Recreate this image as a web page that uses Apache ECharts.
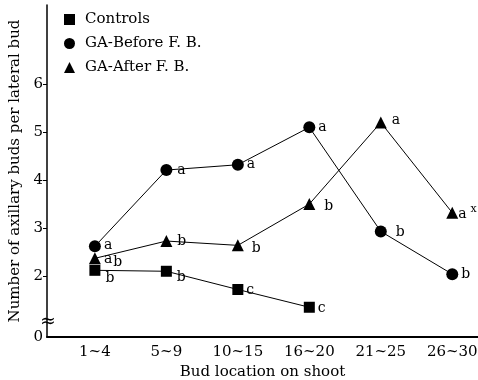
<!DOCTYPE html>
<html>
<head>
<meta charset="utf-8">
<script src="https://cdn.jsdelivr.net/npm/echarts@6/dist/echarts.min.js"></script>
<style>
  html, body { margin: 0; padding: 0; background: #fff; }
  #main { width: 478px; height: 380px; }
</style>
</head>
<body>
<div id="main"></div>
<script>
// bud location categories
var categories = ['1~4', '5~9', '10~15', '16~20', '21~25', '26~30'];
var seriesNames = ['Controls', 'GA-Before F. B.', 'GA-After F. B.'];

// values
var controlsValues = [2.12, 2.10, 1.72, 1.35];
var gaBeforeValues = [2.62, 4.21, 4.32, 5.10, 2.93, 2.04];
var gaAfterValues = [2.37, 2.73, 2.64, 3.50, 5.20, 3.32];

// significance letters
var controlsSig = ['b', 'b', 'c', 'c'];
var gaBeforeSig = ['a', 'a', 'a', 'a', 'b', 'b'];
var gaAfterSig = ['a{lo|b}', 'b', 'b', 'b', 'a', 'a{sup|x}'];

var yTicks = [2, 3, 4, 5, 6];

var font = 'DejaVu Serif';

function buildData(values, sig, offsets) {
    return values.map(function(v, i) {
        return {
            value: [i, v],
            label: { formatter: sig[i], offset: offsets[i] }
        };
    });
}

var dom = document.getElementById('main');
var myChart = echarts.init(dom);

var labelStyle = {
    show: true,
    position: 'right',
    distance: 3,
    color: '#000',
    fontFamily: font,
    fontSize: 14,
    rich: {
        sup: { fontSize: 11, fontFamily: font, color: '#000', padding: [0, 0, 12, 4] },
        lo: { fontSize: 14, fontFamily: font, color: '#000', padding: [6, 0, 0, 1] }
    }
};

var option = {
    animation: false,
    backgroundColor: '#fff',
    grid: {
        left: 47,
        right: 0,
        top: 5,
        bottom: 43,
        outerBoundsMode: 'none'
    },
    legend: {
        orient: 'vertical',
        left: 59,
        top: 7,
        itemGap: 9,
        itemWidth: 11,
        itemHeight: 11,
        data: [
            { name: seriesNames[0], icon: 'rect' },
            { name: seriesNames[1], icon: 'circle' },
            { name: seriesNames[2], icon: 'triangle' }
        ],
        textStyle: {
            color: '#000',
            fontFamily: font,
            fontSize: 15,
            padding: [0, 0, 0, 5]
        }
    },
    xAxis: {
        type: 'value',
        min: -0.67,
        max: 5.36,
        name: 'Bud location on shoot',
        nameLocation: 'middle',
        nameGap: 21,
        nameTextStyle: { color: '#000', fontFamily: font, fontSize: 15 },
        splitLine: { show: false },
        axisLine: { show: true, onZero: false, lineStyle: { color: '#000', width: 2 } },
        axisTick: { show: false },
        axisLabel: {
            customValues: [0, 1, 2, 3, 4, 5],
            formatter: function(v) { return categories[Math.round(v)]; },
            color: '#000',
            fontFamily: font,
            fontSize: 15,
            margin: 8
        }
    },
    yAxis: {
        type: 'value',
        min: 0.73,
        max: 7.65,
        name: 'Number of axillary buds per lateral bud',
        nameLocation: 'middle',
        nameGap: 22,
        nameTextStyle: { color: '#000', fontFamily: font, fontSize: 15 },
        splitLine: { show: false },
        axisLine: { show: true, onZero: false, lineStyle: { color: '#000', width: 1.5 } },
        axisTick: {
            show: true,
            customValues: yTicks,
            length: 4,
            lineStyle: { color: '#000', width: 1 }
        },
        axisLabel: {
            customValues: [0.73].concat(yTicks),
            formatter: function(v) { return v < 1 ? '0' : String(v); },
            color: '#000',
            fontFamily: font,
            fontSize: 15,
            margin: 4
        }
    },
    graphic: [{
        type: 'text',
        x: 48,
        y: 322,
        style: {
            text: '≈',
            fontSize: 19,
            fontFamily: font,
            fill: '#000',
            align: 'center',
            verticalAlign: 'middle'
        }
    }],
    series: [{
            name: seriesNames[0],
            type: 'line',
            symbol: 'rect',
            symbolSize: 11,
            itemStyle: { color: '#000' },
            lineStyle: { color: '#000', width: 1 },
            label: labelStyle,
            data: buildData(controlsValues, controlsSig, [[2, 8], [2, 6], [0, 1], [0, 1]])
        },
        {
            name: seriesNames[1],
            type: 'line',
            symbol: 'circle',
            symbolSize: 12,
            itemStyle: { color: '#000' },
            lineStyle: { color: '#000', width: 1 },
            label: labelStyle,
            data: buildData(gaBeforeValues, gaBeforeSig, [[0, -1], [2, 0], [0, 0], [0, 0], [6, 1], [0, 0]])
        },
        {
            name: seriesNames[2],
            type: 'line',
            symbol: 'triangle',
            symbolSize: 12,
            itemStyle: { color: '#000' },
            lineStyle: { color: '#000', width: 1 },
            label: labelStyle,
            data: buildData(gaAfterValues, gaAfterSig, [[0, 1], [2, 0], [5, 3], [6, 2], [2, -2], [-3, 2]])
        }
    ]
};

window.addEventListener('resize', function() {
    myChart.resize();
});

myChart.setOption(option);
</script>
</body>
</html>
